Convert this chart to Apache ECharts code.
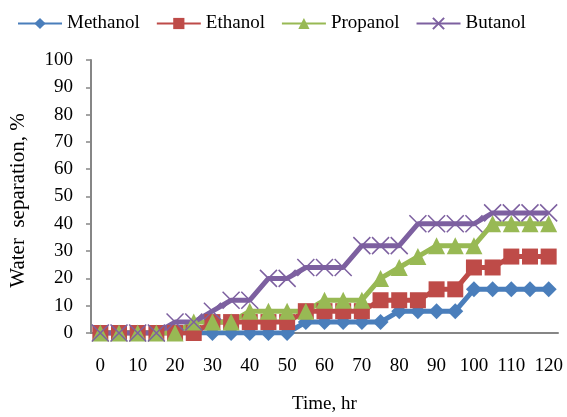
<!DOCTYPE html>
<html>
<head>
<meta charset="utf-8">
<script src="https://cdn.jsdelivr.net/npm/echarts@6/dist/echarts.min.js"></script>
<style>html,body{margin:0;padding:0;background:#fff;}#c{width:567px;height:417px;}</style>
</head>
<body>
<div id="c"></div>
<script>
var times = [0,5,10,15,20,25,30,35,40,45,50,55,60,65,70,75,80,85,90,95,100,105,110,115,120];
var methanol = [0,0,0,0,0,0,0,0,0,0,0,4,4,4,4,4,8,8,8,8,16,16,16,16,16];
var ethanol  = [0,0,0,0,0,0,4,4,4,4,4,8,8,8,8,12,12,12,16,16,24,24,28,28,28];
var propanol = [0,0,0,0,0,4,4,4,8,8,8,8,12,12,12,20,24,28,32,32,32,40,40,40,40];
var butanol  = [0,0,0,0,4,4,8,12,12,20,20,24,24,24,32,32,32,40,40,40,40,44,44,44,44];
var yTicks = {min:0, max:100, interval:10};

var font = 'Liberation Serif, Times New Roman, serif';
var axisGray = '#868686';
var chart = echarts.init(document.getElementById('c'), null, {renderer:'canvas'});
function ser(name, data, color, symbol, size, extra){
  var s = {
    name: name, type: 'line', data: data,
    symbol: symbol, symbolSize: size, showSymbol: true, showAllSymbol: true,
    lineStyle: {color: color, width: 5},
    itemStyle: {color: color},
    animation: false, z: 2
  };
  if (extra) { for (var k in extra) s[k] = extra[k]; }
  return s;
}
chart.setOption({
  animation: false,
  backgroundColor: '#fff',
  legend: {
    top: 9, left: 12,
    itemWidth: 44, itemHeight: 14, itemGap: 16,
    textStyle: {fontFamily: font, fontSize: 19, color: '#000'}
  },
  grid: {left: 91, right: 9, top: 60, bottom: 84, containLabel: false, outerBoundsMode: 'none'},
  xAxis: {
    type: 'category', data: times, boundaryGap: true,
    name: 'Time, hr', nameLocation: 'middle', nameGap: 62,
    nameTextStyle: {fontFamily: font, fontSize: 19, color: '#000'},
    axisLine: {lineStyle: {color: axisGray, width: 2}},
    axisTick: {show: false},
    axisLabel: {interval: 1, margin: 24, fontFamily: font, fontSize: 19, color: '#000'},
    splitLine: {show: false}
  },
  yAxis: {
    type: 'value', min: yTicks.min, max: yTicks.max, interval: yTicks.interval,
    name: 'Water  separation, %', nameLocation: 'middle', nameGap: 62,
    nameTextStyle: {fontFamily: font, fontSize: 21, color: '#000', padding: [0, 0, 0, -8]},
    axisLine: {show: true, lineStyle: {color: axisGray, width: 2}},
    axisTick: {show: true, inside: false, length: 5, lineStyle: {color: axisGray, width: 1.5}},
    axisLabel: {margin: 18, fontFamily: font, fontSize: 19, color: '#000'},
    splitLine: {show: false}
  },
  series: [
    ser('Methanol', methanol, '#4A7EBB', 'diamond', 16),
    ser('Ethanol', ethanol, '#BE4B48', 'rect', 16),
    ser('Propanol', propanol, '#98B954', 'triangle', 17),
    ser('Butanol', butanol, '#7D60A0', 'path://M0,0L10,10M10,0L0,10', 17,
      {itemStyle: {color: '#7D60A0', borderColor: '#7D60A0', borderWidth: 1.5}})
  ]
});
</script>
</body>
</html>
